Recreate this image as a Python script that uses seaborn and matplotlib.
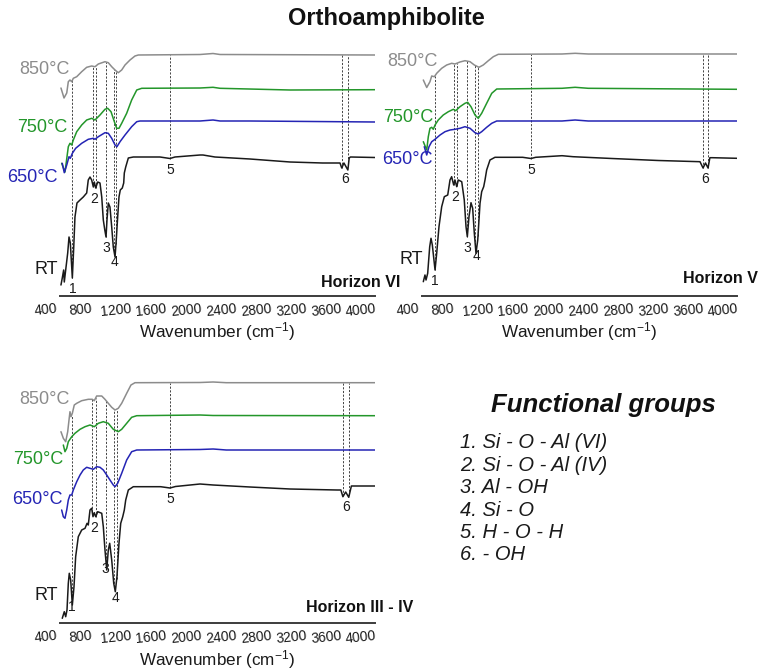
import numpy as np
import pandas as pd
import matplotlib
matplotlib.use("Agg")
import matplotlib.pyplot as plt
import seaborn as sns
from matplotlib.transforms import ScaledTranslation

sns.set_theme(style="white")
plt.rcParams['font.family'] = ['Liberation Sans', 'DejaVu Sans']
plt.rcParams['mathtext.fontset'] = 'custom'
plt.rcParams['mathtext.rm'] = 'Liberation Sans'
plt.rcParams['mathtext.it'] = 'Liberation Sans:italic'
plt.rcParams['mathtext.bf'] = 'Liberation Sans:bold'

# ---------------- DATA (wavenumber cm-1, stacked transmittance a.u.) ----------------
# Horizon VI
h6_rt_wn = [411, 426, 442, 449, 465, 488, 503, 518, 541, 557,
            571, 594, 629, 666, 705, 723, 743, 762, 781, 792,
            808, 831, 857, 877, 895, 912, 926, 937, 952, 971,
            991, 1009, 1029, 1043, 1059, 1074, 1089, 1112, 1128, 1135,
            1151, 1181, 1238, 1543, 1657, 1714, 2000, 2034, 2171, 2571,
            3029, 3400, 3600, 3620, 3645, 3690, 3705, 3720, 4000]
h6_rt_t = [11, 18, 26, 14, 26, 43, 59, 53, 18, 49,
           79, 93, 96, 99, 103, 116, 119, 116, 109, 114,
           108, 114, 113, 99, 76, 66, 59, 76, 93, 89,
           69, 49, 39, 56, 79, 99, 106, 108, 113, 123,
           129, 138, 139, 139, 137.5, 139, 141, 141, 139, 137,
           134, 133, 133, 128, 133, 126, 138, 139, 138.5]
h6_650_wn = [426, 449, 477, 503, 518, 541, 579, 648, 723, 781,
             800, 838, 914, 952, 991, 1029, 1051, 1086, 1143, 1219,
             1277, 1314, 2000, 2149, 2229, 2571, 4000]
h6_650_t = [132.7, 123.3, 131, 139.3, 137.7, 142.7, 147.7, 152.7, 156.7, 157.7,
            156.7, 159.3, 163.3, 162.7, 157.7, 151, 149.3, 154.3, 161, 169.3,
            174.3, 175, 175, 176, 175, 175, 174]
h6_750_wn = [419, 457, 495, 514, 534, 552, 591, 648, 705, 762,
             800, 857, 914, 945, 983, 1021, 1048, 1074, 1105, 1162,
             1219, 1277, 1334, 2000, 2149, 2229, 3029, 4000]
h6_750_t = [132.7, 124, 149.3, 152.7, 151, 156, 164.3, 171, 176, 177.7,
            176, 181, 186.7, 187.7, 184.3, 174.3, 167.7, 167.7, 172.7, 182.7,
            196, 206, 207.7, 208, 208.7, 207.7, 206, 206.3]
h6_850_wn = [411, 446, 477, 495, 514, 534, 552, 591, 648, 705,
             762, 800, 838, 914, 952, 991, 1029, 1066, 1105, 1143,
             1200, 1257, 1295, 2000, 2149, 2229, 4000]
h6_850_t = [208, 198, 203, 214.3, 216, 214.3, 217.7, 219.3, 224.3, 228.7,
            230, 229.3, 232, 234.3, 233.3, 229.3, 226, 223.3, 226, 231,
            236, 240, 241, 241.5, 242.5, 241.5, 241]
h6_peaks = [541, 773, 808, 926, 1017, 1040, 1657, 3620, 3695]

# Horizon V
h5_rt_wn = [415, 434, 446, 465, 488, 503, 518, 549, 568, 594,
            625, 655, 694, 720, 739, 762, 777, 797, 815, 854,
            883, 903, 918, 937, 960, 979, 998, 1017, 1037, 1063,
            1082, 1105, 1120, 1139, 1177, 1234, 1550, 1646, 1700, 2000,
            2126, 2571, 3100, 3577, 3612, 3640, 3669, 3690, 3720, 4000]
h5_rt_t = [14.3, 21, 16, 22.7, 49.3, 57.7, 51, 26, 42.7, 69.3,
           89.3, 99.3, 101, 116, 119.3, 111, 116, 109.3, 116, 114.3,
           96, 69.3, 59.3, 79.3, 93.3, 87.7, 62.7, 42.7, 56, 92.7,
           104.3, 109.3, 116, 126, 136, 138.7, 138.7, 137.5, 138.7, 140.3,
           139.3, 137.5, 135.5, 134.3, 128, 133, 128, 138.3, 138.3, 137.7]
h5_650_wn = [426, 454, 480, 511, 549, 606, 663, 720, 777, 834,
             891, 949, 1006, 1043, 1082, 1139, 1197, 1254, 2000, 2150, 2300, 4000]
h5_650_t = [149.3, 141, 149.3, 154.3, 156.7, 161, 164.3, 166, 166.7, 167.7,
            169.3, 167.7, 163.3, 162, 164.3, 168.7, 172.7, 175, 175, 176, 175, 175]
h5_750_wn = [415, 454, 472, 491, 511, 529, 549, 586, 643, 701,
             758, 785, 834, 891, 922, 960, 1006, 1043, 1082, 1139,
             1197, 1254, 2000, 2150, 2300, 4000]
h5_750_t = [154.3, 146, 159.3, 167.7, 168.7, 166.7, 171, 176, 181, 184.3,
            186.7, 185.3, 189.3, 192.7, 193.7, 189.3, 181, 177.7, 182.7, 192.7,
            202.7, 207, 207.7, 208.7, 207.7, 206.7]
h5_850_wn = [415, 454, 491, 511, 541, 568, 625, 682, 739, 777,
             834, 891, 949, 998, 1051, 1100, 1158, 1215, 1272, 2000,
             2150, 2300, 4000]
h5_850_t = [216, 208.5, 214.3, 220, 219.3, 222.7, 227.7, 231, 232.7, 232,
            234, 235.3, 234.3, 231, 228.7, 231, 235.3, 239.3, 241.7, 242,
            242.7, 242, 242]
h5_peaks = [549, 762, 800, 918, 1009, 1040, 1646, 3612, 3669]

# Horizon III - IV
h34_rt_wn = [426, 449, 465, 480, 495, 506, 522, 541, 560, 579,
             609, 648, 686, 709, 723, 743, 762, 777, 792, 808,
             831, 877, 895, 914, 934, 952, 968, 991, 1014, 1032,
             1051, 1074, 1094, 1117, 1135, 1151, 1181, 1238, 1550, 1657,
             1720, 2000, 2150, 2571, 3029, 3566, 3610, 3633, 3665, 3700,
             3730, 3750, 4000]
h34_rt_t = [4.7, 11.3, 6.3, 13, 39.7, 49.7, 43, 18, 36.3, 66.3,
            86.3, 93, 94.7, 99.7, 98, 113, 114.7, 106.3, 110.3, 106.3,
            111.3, 109.7, 96.3, 73, 53, 73, 79.7, 63, 39.7, 31.3,
            46.3, 79.7, 99.7, 106.3, 113, 123, 133, 136.3, 136.3, 135,
            136.5, 139, 138, 136, 134, 133, 133, 126.3, 131, 125.7,
            137, 137, 137]
h34_650_wn = [419, 438, 457, 477, 495, 514, 534, 552, 591, 629,
              666, 705, 743, 781, 819, 857, 895, 934, 971, 1009,
              1029, 1059, 1105, 1162, 1219, 1277, 2000, 2150, 2300, 4000]
h34_650_t = [113, 106.3, 104.7, 113, 123, 128, 128, 133, 141.3, 148,
             153, 155.7, 154.7, 153.7, 156.3, 155.7, 153, 148, 143, 138,
             136.3, 139.7, 149.7, 163, 171.3, 173, 173.5, 174, 173, 173]
h34_750_wn = [438, 457, 477, 495, 534, 571, 629, 686, 743, 792,
              838, 895, 952, 1009, 1066, 1105, 1162, 1219, 1277, 2000,
              2150, 4000]
h34_750_t = [178, 171.3, 174.7, 181.3, 186.3, 189.7, 193.7, 196.3, 198, 196.3,
             199.7, 201.3, 199.7, 193.7, 191.3, 193.7, 199.7, 205.7, 207.3, 208,
             207.5, 207.3]
h34_850_wn = [411, 438, 465, 488, 503, 514, 526, 541, 563, 591,
              648, 723, 769, 792, 819, 877, 914, 952, 991, 1029,
              1066, 1105, 1162, 1211, 1257, 2000, 2150, 2300, 4000]
h34_850_t = [191.3, 184.7, 181.3, 191.3, 203, 211.3, 206.3, 209.7, 218, 219.7,
             222.3, 223.7, 223.7, 222.3, 227, 227, 223.7, 219.7, 215.7, 213,
             214.7, 219.7, 229.7, 238, 240.3, 240.5, 241, 240.3, 240.3]
h34_peaks = [534, 769, 808, 922, 1021, 1048, 1657, 3638, 3707]

series_names = ['RT', '650°C', '750°C', '850°C']
group_labels = ['1', '2', '3', '4', '5', '6']
group_members = [[0], [1, 2], [3], [4, 5], [6], [7, 8]]
xticks = [400, 800, 1200, 1600, 2000, 2400, 2800, 3200, 3600, 4000]
legend_title = 'Functional groups'
legend_items = ['1. Si - O - Al (VI)', '2. Si - O - Al (IV)', '3. Al - OH',
                '4. Si - O', '5. H - O - H', '6. - OH']

# ---------------- STYLE / LAYOUT ----------------
colors = {'RT': '#1a1a1a', '650°C': '#2424b4', '750°C': '#23962a', '850°C': '#8c8c8c'}
W, H = 772, 672
fig = plt.figure(figsize=(W / 100, H / 100), dpi=100)


def add_axes(l, r, t, b):
    return fig.add_axes([l / W, 1 - b / H, (r - l) / W, (b - t) / H])


panels = [
    dict(ax=add_axes(60, 375, 40, 296), ylim=256,
         curves=[(h6_rt_wn, h6_rt_t), (h6_650_wn, h6_650_t), (h6_750_wn, h6_750_t), (h6_850_wn, h6_850_t)],
         peaks=h6_peaks, name='Horizon VI', name_pos=(1.079, 0.051),
         tlab={'850°C': (514, 226), '750°C': (480, 168), '650°C': (377, 118), 'RT': (377, 26)},
         xlab_y=-0.137),
    dict(ax=add_axes(422, 737, 40, 296), ylim=256,
         curves=[(h5_rt_wn, h5_rt_t), (h5_650_wn, h5_650_t), (h5_750_wn, h5_750_t), (h5_850_wn, h5_850_t)],
         peaks=h5_peaks, name='Horizon V', name_pos=(1.067, 0.070),
         tlab={'850°C': (583, 234), '750°C': (526, 179), '650°C': (526, 136), 'RT': (411, 36)},
         xlab_y=-0.137),
    dict(ax=add_axes(60, 375, 370, 623), ylim=253,
         curves=[(h34_rt_wn, h34_rt_t), (h34_650_wn, h34_650_t), (h34_750_wn, h34_750_t), (h34_850_wn, h34_850_t)],
         peaks=h34_peaks, name='Horizon III - IV', name_pos=(1.121, 0.063),
         tlab={'850°C': (514, 223), '750°C': (434, 163), '650°C': (434, 123), 'RT': (377, 28)},
         xlab_y=-0.146),
]

shift = ScaledTranslation(-14 / 100, 0, fig.dpi_scale_trans)

for p in panels:
    ax = p['ax']
    frames = []
    for name, (wn, t) in zip(series_names, p['curves']):
        assert len(wn) == len(t)
        frames.append(pd.DataFrame({'wn': wn, 'T': t, 'series': name}))
    df = pd.concat(frames, ignore_index=True)
    sns.lineplot(data=df, x='wn', y='T', hue='series', palette=colors, hue_order=series_names[::-1],
                 sort=False, estimator=None, legend=False, linewidth=1.1, ax=ax)

    rt_wn, rt_t = p['curves'][0]
    g_wn, g_t = p['curves'][3]
    bottoms = []
    for pk in p['peaks']:
        top = np.interp(pk, g_wn, g_t)
        bot = np.interp(pk, rt_wn, rt_t)
        bottoms.append(bot)
        ax.vlines(pk, bot, top, colors='#444444', linewidth=0.7, linestyles=(0, (2.2, 1.6)), zorder=1)
    for lbl, members in zip(group_labels, group_members):
        x = np.mean([p['peaks'][i] for i in members])
        y = min(bottoms[i] for i in members)
        ax.annotate(lbl, (x, y), xytext=(0, -3), textcoords='offset points',
                    ha='center', va='top', fontsize=10, color='#1a1a1a')

    for name, (tx, ty) in p['tlab'].items():
        ax.text(tx, ty, name, ha='right', va='center', fontsize=13, color=colors[name], clip_on=False)

    ax.text(p['name_pos'][0], p['name_pos'][1], p['name'], transform=ax.transAxes,
            ha='right', va='center', fontsize=11.5, fontweight='bold', color='#111111')

    ax.set_xlim(400, 4000)
    ax.set_ylim(0, p['ylim'])
    ax.set_yticks([])
    ax.set_ylabel('')
    ax.set_xticks(xticks)
    ax.set_xticklabels([str(v) for v in xticks])
    ax.tick_params(axis='x', length=0, pad=4, labelsize=10, labelcolor='#1a1a1a', labelrotation=6)
    for s in ['top', 'left', 'right']:
        ax.spines[s].set_visible(False)
    ax.spines['bottom'].set_color('#3c3c3c')
    ax.spines['bottom'].set_linewidth(1.4)
    ax.set_xlabel('Wavenumber (cm$^{-1}$)', fontsize=12.3, color='#1a1a1a')
    ax.xaxis.label.set_va('center')
    ax.xaxis.set_label_coords(0.5, p['xlab_y'])
    ax.patch.set_alpha(0)
    for lab in ax.get_xticklabels():
        lab.set_transform(lab.get_transform() + shift)

fig.text(0.5, 1 - 18 / H, 'Orthoamphibolite', ha='center', va='center',
         fontsize=17, fontweight='bold', color='#111111')
fig.text(603 / W, 1 - 405 / H, legend_title, ha='center', va='center',
         fontsize=18.5, fontweight='bold', fontstyle='italic', color='#111111')
for i, item in enumerate(legend_items):
    fig.text(460 / W, 1 - (443 + 22.4 * i) / H, item, ha='left', va='center',
             fontsize=14.5, fontstyle='italic', color='#1a1a1a')

fig.savefig('out.png', dpi=100, facecolor='white')
